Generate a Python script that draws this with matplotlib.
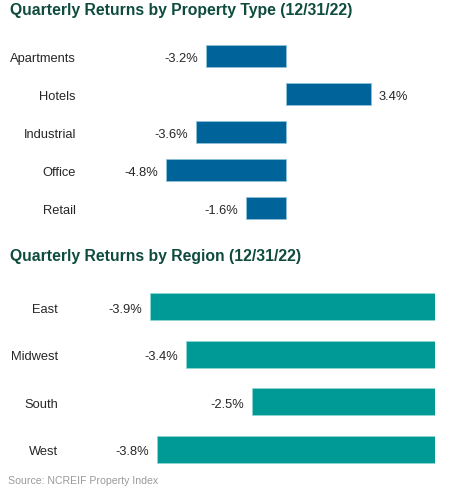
import matplotlib.pyplot as plt
from matplotlib.transforms import ScaledTranslation

# === Data ===
property_types = ["Apartments", "Hotels", "Industrial", "Office", "Retail"]
property_returns = [-3.2, 3.4, -3.6, -4.8, -1.6]

regions = ["East", "Midwest", "South", "West"]
region_returns = [-3.9, -3.4, -2.5, -3.8]

title_top = "Quarterly Returns by Property Type (12/31/22)"
title_bottom = "Quarterly Returns by Region (12/31/22)"
source_note = "Source: NCREIF Property Index"

# === Style ===
plt.rcParams['font.family'] = ['Liberation Sans', 'DejaVu Sans']
W, H = 450, 495
BLUE = "#00639a"
TEAL = "#009a96"
TITLE_COLOR = "#0f4c3e"
TEXT_COLOR = "#262626"
LABEL_SIZE = 9.3


def px_axes(fig, left, top, width, height):
    # axes placed in pixel coordinates measured from the top-left corner
    return fig.add_axes([left / W, 1 - (top + height) / H, width / W, height / H])


def draw_bars(fig, ax, cats, vals, color, bar_h, xlim):
    y = list(range(len(cats)))
    ax.barh(y, vals, height=bar_h, color=color, edgecolor="#8fc3d8" if color == BLUE else "#8fd6d2",
            linewidth=0.6)
    ax.set_xlim(*xlim)
    ax.set_ylim(len(cats) - 0.5, -0.5)
    ax.set_yticks(y)
    ax.set_yticklabels(cats, fontsize=LABEL_SIZE, color=TEXT_COLOR)
    ax.tick_params(axis='y', length=0, pad=2.9)
    ax.set_xticks([])
    for s in ax.spines.values():
        s.set_visible(False)
    # nudge category labels down a touch, like the reference
    shift = ScaledTranslation(0, -1.5 / 100, fig.dpi_scale_trans)
    for lbl in ax.get_yticklabels():
        lbl.set_transform(lbl.get_transform() + shift)
    for yi, v in zip(y, vals):
        off = 5.5 if v > 0 else -5.5
        ax.annotate(f"{v:.1f}%", xy=(v, yi), xytext=(off, -1.1), textcoords="offset points",
                    ha="left" if v > 0 else "right", va="center_baseline",
                    fontsize=LABEL_SIZE, color=TEXT_COLOR)


fig = plt.figure(figsize=(W / 100, H / 100), dpi=100)

# top chart: zero at x=286, 25 px per percent
ax1 = px_axes(fig, 80, 37, 340, 190)
draw_bars(fig, ax1, property_types, property_returns, BLUE, 0.58,
          (-(286 - 80) / 25, (420 - 286) / 25))

# bottom chart: zero at x=435, ~73.2 px per percent
ax2 = px_axes(fig, 62, 283, 373, 190)
draw_bars(fig, ax2, regions, region_returns, TEAL, 0.57, (-373 / 73.2, 0))

fig.text(10 / W, 1 - 10.5 / H, title_top, fontsize=11.3, fontweight="bold",
         color=TITLE_COLOR, ha="left", va="center")
fig.text(10 / W, 1 - 256 / H, title_bottom, fontsize=11.3, fontweight="bold",
         color=TITLE_COLOR, ha="left", va="center")
fig.text(8 / W, 1 - 481 / H, source_note, fontsize=7.6, color="#9a9a9a",
         ha="left", va="center")

fig.savefig("out.png", dpi=100, facecolor="white")
